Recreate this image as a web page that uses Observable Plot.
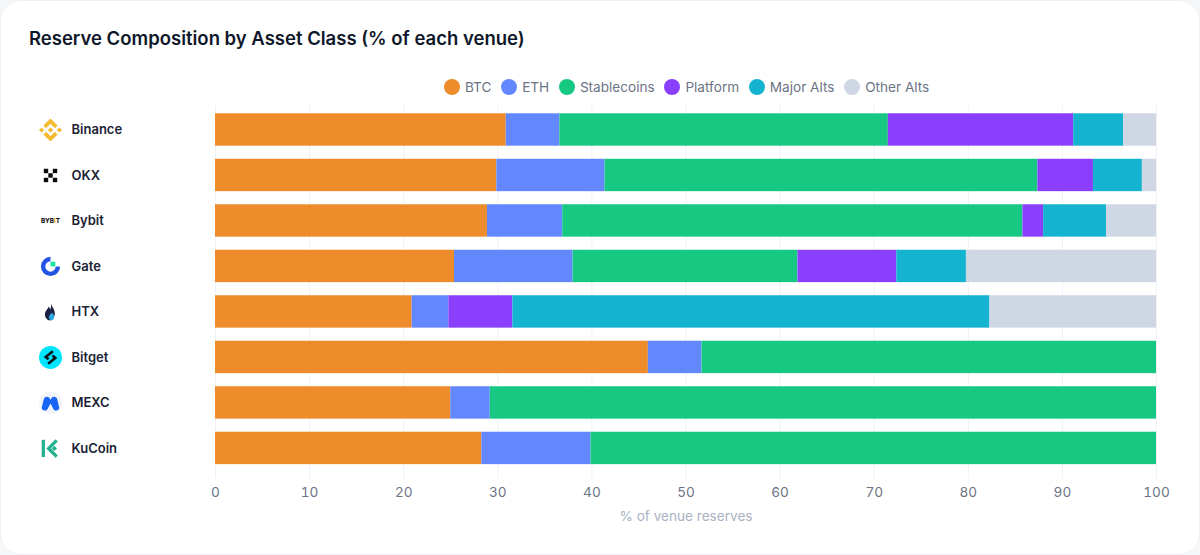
<!DOCTYPE html>
<html>
<head>
<meta charset="utf-8">
<script src="https://cdn.jsdelivr.net/npm/d3@7"></script>
<script src="https://cdn.jsdelivr.net/npm/@observablehq/plot@0.6"></script>
<style>
html,body{margin:0;padding:0;width:1200px;height:555px;overflow:hidden;background:#f6f7f9;font-family:Inter,sans-serif}
#card{position:absolute;left:0;top:0;width:1198px;height:553px;background:#fff;border:1px solid #eef0f4;border-radius:20px}
#title{position:absolute;left:29px;top:26px;font-size:18.5px;line-height:24px;font-weight:600;color:#0f172a;white-space:nowrap}
#legend{position:absolute;left:444px;top:77px;height:20px;display:flex;align-items:center;font-size:13.6px;color:#6b7486}
#legend .k{width:16px;height:16px;border-radius:50%;margin-right:5px}
#legend .i{display:flex;align-items:center;margin-right:9.7px;white-space:nowrap}
#chart{position:absolute;left:0;top:100px}
#chart svg{display:block;background:transparent}
</style>
</head>
<body>
<div id="card"></div>
<div id="title">Reserve Composition by Asset Class (% of each venue)</div>
<div id="legend"></div>
<div id="chart"></div>
<script>
const venues = ["Binance","OKX","Bybit","Gate","HTX","Bitget","MEXC","KuCoin"];
const assets = ["BTC","ETH","Stablecoins","Platform","Major Alts","Other Alts"];
const colors = ["#ee8c2c","#6287ff","#17c882","#8a3ffc","#14b3d0","#d0d7e4"];
const btc    = [30.9,29.9,28.9,25.4,20.9,46.0,25.0,28.3];
const eth    = [5.7,11.5,8.0,12.6,3.9,5.7,4.2,11.6];
const stable = [34.9,46.0,48.9,23.9,0,48.3,70.8,60.1];
const platform = [19.7,5.9,2.2,10.5,6.8,0,0,0];
const major  = [5.3,5.2,6.7,7.4,50.7,0,0,0];
const other  = [3.5,1.5,5.3,20.2,17.7,0,0,0];
const xTicks = [0,10,20,30,40,50,60,70,80,90,100];
const xLabel = "% of venue reserves";

const series = [btc,eth,stable,platform,major,other];
const rows = assets.flatMap((a,i)=>venues.map((v,j)=>({venue:v,asset:a,value:series[i][j]})));

const svgUri = s => "data:image/svg+xml;utf8," + encodeURIComponent(`<svg xmlns="http://www.w3.org/2000/svg" viewBox="0 0 24 24">${s}</svg>`);
const icons = [
  svgUri(`<path fill="#f3ba2f" d="M7.340 10.080 12 5.420l4.660 4.660 2.710-2.710L12 0 4.630 7.370zM0 12l2.710-2.710L5.420 12l-2.710 2.710zM7.340 13.920 12 18.580l4.660-4.660 2.710 2.710L12 24l-7.370-7.370zM18.580 12l2.710-2.710L24 12l-2.710 2.710zM14.750 12 12 9.250 9.250 12 12 14.750z"/>`),
  svgUri(`<g fill="#0b0b0b"><rect x="5" y="5" width="4.600" height="4.600"/><rect x="14.400" y="5" width="4.600" height="4.600"/><rect x="9.700" y="9.700" width="4.600" height="4.600"/><rect x="5" y="14.400" width="4.600" height="4.600"/><rect x="14.400" y="14.400" width="4.600" height="4.600"/></g>`),
  svgUri(`<text x="12" y="14" font-family="Inter,sans-serif" font-size="6.600" font-weight="800" text-anchor="middle" fill="#17181c">BYB<tspan fill="#f7a600">I</tspan>T</text>`),
  svgUri(`<path d="M12 2a10 10 0 1 0 10 10h-4.600A5.400 5.400 0 1 1 12 6.600Z" fill="#2354e6"/><rect x="12" y="7" width="5" height="5" fill="#17e6a1"/>`),
  svgUri(`<path d="M12.600 3C13.200 7 16.500 8.800 16.500 13.500c0 3.800-2.300 6.300-5 7.500-3-.6-5.300-3-5.300-6.400 0-3.600 3-5.400 3.800-8 1 .7 1.500 1.700 1.600 3 1-1.700 1.200-4.300 1-6.600Z" fill="#1b2143"/><path d="M13.400 12.500c1.600 1.700 2.400 3.200 2.400 5 0 1.700-1.100 3-2.800 3.500-1.700-.5-2.800-1.800-2.800-3.500 0-2.200 2.200-3 3.200-5Z" fill="#2ca6e0"/>`),
  svgUri(`<circle cx="12" cy="12" r="12" fill="#00e5ff"/><g fill="none" stroke="#0a1418" stroke-width="2.700"><path d="M14.500 5.500 7 11.500 10 14"/><path d="M9.500 18.500 17 12.500 14 10"/></g>`),
  svgUri(`<circle cx="12" cy="12" r="12" fill="#f1f4f9"/><path d="M8.300 5.500c1.500 0 2.500.9 3 2L12 9l.7-1.500c.5-1.100 1.500-2 3-2 1.800 0 2.900 1.100 3.300 2.700l2 8c.5 2-1 3.800-3 3.800-1.500 0-2.500-.8-3.100-2L12 12.500 9.100 18c-.6 1.200-1.600 2-3.100 2-2 0-3.500-1.800-3-3.800l2-8c.4-1.600 1.500-2.700 3.300-2.700Z" fill="#1766f5"/>`),
  svgUri(`<g fill="none" stroke="#23b08e" stroke-width="3.400"><path d="M4.500 3V21"/><path d="M18.500 3.500 10 12 18.500 20.500"/></g><path d="M16 9.200 18.800 12 16 14.800 13.200 12Z" fill="#23b08e"/>`)
];
const labels = venues.map((v,i)=>({venue:v,icon:icons[i]}));

document.getElementById("legend").innerHTML = assets.map((a,i)=>`<div class="i"><div class="k" style="background:${colors[i]}"></div>${a}</div>`).join("");

const plot = Plot.plot({
  width:1200,height:430,
  marginLeft:215,marginRight:44,marginTop:6,marginBottom:52,
  style:{fontFamily:"Inter,sans-serif",background:"transparent",overflow:"visible"},
  x:{domain:[0,100],label:null},
  y:{domain:venues,paddingInner:0.288,paddingOuter:0.16,align:0.5,round:false,insetBottom:6.6,label:null},
  color:{domain:assets,range:colors},
  marks:[
    Plot.gridX(xTicks,{stroke:"#eef1f5",strokeOpacity:1,strokeWidth:1}),
    Plot.barX(rows,{x:"value",y:"venue",fill:"asset",order:assets}),
    Plot.axisX({ticks:xTicks,tickSize:0,tickPadding:9,fontSize:13.6,fill:"#6b7486",label:null}),
    Plot.axisY({ticks:[],label:null,tickSize:0}),
    Plot.text([xLabel],{x:()=>50,text:d=>d,frameAnchor:"bottom",dy:42,fontSize:13.6,fill:"#a9b2c3"}),
    Plot.image(labels,{y:"venue",src:"icon",frameAnchor:"left",dx:-165,width:23,height:23}),
    Plot.text(labels,{y:"venue",text:"venue",frameAnchor:"left",dx:-144,textAnchor:"start",fontSize:13,fontWeight:600,fill:"#1a2233"})
  ]
});
document.getElementById("chart").append(plot);
</script>
</body>
</html>
